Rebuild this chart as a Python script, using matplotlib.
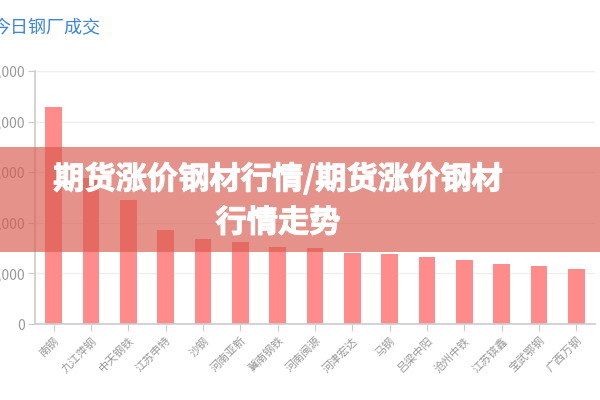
import matplotlib
matplotlib.use("Agg")
import matplotlib.pyplot as plt
import matplotlib.patheffects as pe
from matplotlib.patches import Rectangle
from matplotlib.ticker import FuncFormatter

plt.rcParams['font.family'] = ['Noto Sans CJK SC', 'DejaVu Sans']

TITLE = "今日钢厂成交"
BANNER = "期货涨价钢材行情/期货涨价钢材\n行情走势"

mills = ["南钢", "九江萍钢", "中天钢铁", "江苏申特", "沙钢", "河南亚新", "冀南钢铁",
         "河南闽源", "河津宏达", "马钢", "吕梁中阳", "沧州中铁", "江苏镔鑫", "宝武鄂钢", "广西万钢"]
volume = [42900, 28900, 24600, 18600, 16700, 16300, 15300,
          15000, 14000, 13800, 13300, 12650, 11900, 11500, 10900]
y_ticks = [0, 10000, 20000, 30000, 40000, 50000]

BAR_COLOR = "#ff8c8a"
AXIS_GRAY = "#cccccc"
TEXT_GRAY = "#999999"

fig = plt.figure(figsize=(6, 4), dpi=100)
ax = fig.add_axes([35 / 600, 76 / 400, 560 / 600, 253 / 400])

x = range(len(mills))
ax.bar(x, volume, width=0.45, color=BAR_COLOR, zorder=2)

ax.set_xlim(-0.5, len(mills) - 0.5)
ax.set_ylim(0, 50000)
ax.set_yticks(y_ticks)
ax.yaxis.set_major_formatter(FuncFormatter(lambda v, p: f"{int(v):,}"))
ax.set_xticks(list(x))
ax.set_xticklabels(mills, rotation=45, ha="right", rotation_mode="anchor")

ax.grid(axis="y", color="#eeeeee", linewidth=1, zorder=0)
for side in ["top", "right"]:
    ax.spines[side].set_visible(False)
for side in ["left", "bottom"]:
    ax.spines[side].set_color(AXIS_GRAY)
    ax.spines[side].set_linewidth(1.2)
ax.tick_params(axis="y", colors=AXIS_GRAY, labelcolor=TEXT_GRAY, labelsize=10, length=5, pad=2)
ax.tick_params(axis="x", colors=AXIS_GRAY, labelcolor=TEXT_GRAY, labelsize=8, length=5, pad=3)

fig.text(-0.012, 372 / 400, TITLE, color="#3d86d8", fontsize=13, va="center", ha="left")

# overlay banner
fig.patches.append(Rectangle((0, 148 / 400), 1, 105 / 400, transform=fig.transFigure,
                             facecolor="#d85a4e", alpha=0.66, edgecolor="none", zorder=5))
fig.text(278 / 600, 199 / 400, BANNER, color="white", fontsize=22.5, fontweight="heavy",
         ha="center", va="center", linespacing=1.45, zorder=6,
         path_effects=[pe.withStroke(linewidth=0.8, foreground="white")])

fig.savefig("out.png", dpi=100)
